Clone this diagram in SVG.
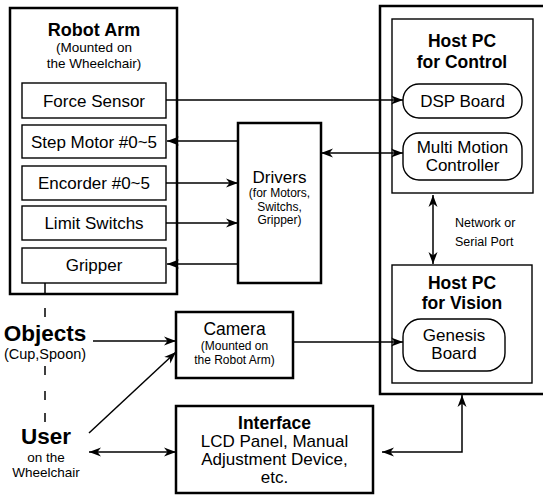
<svg xmlns="http://www.w3.org/2000/svg" width="543" height="497" viewBox="0 0 543 497">
<style>
text{font-family:"Liberation Sans",Arial,Helvetica,sans-serif;fill:#000;text-anchor:middle}
.b{font-weight:bold}
.outer{fill:none;stroke:#000;stroke-width:2.5}
.inner{fill:none;stroke:#000;stroke-width:1.4}
.c{fill:none;stroke:#000;stroke-width:1.5}
.l{font-size:17px}
.s{font-size:12px}
</style>
<defs>
<marker id="ah" markerUnits="userSpaceOnUse" markerWidth="14" markerHeight="10" refX="12" refY="5" orient="auto-start-reverse" viewBox="0 0 14 10">
<path d="M0,0.5 L12,5 L0,9.5 L3.5,5 Z" fill="#000"/>
</marker>
</defs>
<rect width="543" height="497" fill="#fff"/>

<g id="robot-arm">
<rect class="outer" x="10" y="8" width="167" height="286"/>
<text class="b" x="94" y="35.5" font-size="18">Robot Arm</text>
<text x="94" y="52" font-size="13.5">(Mounted on</text>
<text x="94" y="67.5" font-size="13.5">the Wheelchair)</text>
</g>
<g id="force-sensor"><rect class="inner" x="22" y="83" width="144" height="35"/><text class="l" x="94" y="107">Force Sensor</text></g>
<g id="step-motor"><rect class="inner" x="22" y="125" width="144" height="33"/><text class="l" x="94" y="148">Step Motor #0~5</text></g>
<g id="encorder"><rect class="inner" x="22" y="166" width="144" height="34"/><text class="l" x="94" y="189">Encorder #0~5</text></g>
<g id="limit-switchs"><rect class="inner" x="22" y="206" width="144" height="34"/><text class="l" x="94" y="229">Limit Switchs</text></g>
<g id="gripper"><rect class="inner" x="22" y="248" width="144" height="35"/><text class="l" x="94" y="271">Gripper</text></g>

<g id="drivers">
<rect class="outer" x="238" y="123" width="83" height="160"/>
<text class="l" x="279.5" y="182.5">Drivers</text>
<text class="s" x="279.5" y="197">(for Motors,</text>
<text class="s" x="279.5" y="210.5">Switchs,</text>
<text class="s" x="279.5" y="224">Gripper)</text>
</g>

<g id="host-pc">
<rect class="outer" x="380" y="6" width="175" height="388"/>
</g>
<g id="host-pc-control">
<rect class="inner" x="392" y="19" width="141" height="174"/>
<text class="b" x="462" y="47" font-size="17.5">Host PC</text>
<text class="b" x="462" y="67.5" font-size="17.5">for Control</text>
</g>
<g id="dsp-board"><rect class="inner" x="403" y="84" width="119" height="34" rx="16"/><text class="l" x="462.5" y="107">DSP Board</text></g>
<g id="multi-motion"><rect class="inner" x="403" y="133" width="119" height="47" rx="16"/><text class="l" x="462.5" y="153">Multi Motion</text><text class="l" x="462.5" y="171">Controller</text></g>

<g id="host-pc-vision">
<rect class="inner" x="392" y="265" width="140" height="118"/>
<text class="b" x="462" y="288.5" font-size="17.5">Host PC</text>
<text class="b" x="462" y="309" font-size="17.5">for Vision</text>
</g>
<g id="genesis-board"><rect class="inner" x="403" y="319" width="102" height="52" rx="18"/><text class="l" x="454" y="341">Genesis</text><text class="l" x="454" y="359">Board</text></g>

<g id="camera">
<rect class="outer" x="176" y="312" width="117" height="66"/>
<text x="234.5" y="335" font-size="17.5">Camera</text>
<text class="s" x="234.5" y="350">(Mounted on</text>
<text class="s" x="234.5" y="364">the Robot Arm)</text>
</g>

<g id="interface">
<rect class="outer" x="176" y="406" width="197" height="87"/>
<text class="b" x="274.5" y="429" font-size="17.5">Interface</text>
<text class="l" x="274.5" y="447">LCD Panel, Manual</text>
<text class="l" x="274.5" y="465">Adjustment Device,</text>
<text class="l" x="274.5" y="483">etc.</text>
</g>

<g id="objects">
<text class="b" x="45" y="341" font-size="22.5">Objects</text>
<text x="45" y="359" font-size="14.5">(Cup,Spoon)</text>
</g>
<g id="user">
<text class="b" x="46" y="444" font-size="22.5">User</text>
<text x="46" y="461.5" font-size="13.5">on the</text>
<text x="46" y="477" font-size="13.5">Wheelchair</text>
</g>

<g id="labels">
<text x="455" y="227" font-size="12.5" style="text-anchor:start">Network or</text>
<text x="455" y="246" font-size="12.5" style="text-anchor:start">Serial Port</text>
</g>

<g id="connectors">
<path class="c" d="M166,100 H403" marker-end="url(#ah)"/>
<path class="c" d="M238,141 H167" marker-end="url(#ah)"/>
<path class="c" d="M166,183 H238" marker-end="url(#ah)"/>
<path class="c" d="M166,223 H238" marker-end="url(#ah)"/>
<path class="c" d="M238,264 H167" marker-end="url(#ah)"/>
<path class="c" d="M321,153 H403" marker-start="url(#ah)" marker-end="url(#ah)"/>
<path class="c" d="M433,195 V264" stroke-width="2" marker-start="url(#ah)" marker-end="url(#ah)"/>
<path class="c" d="M293,342 H403" marker-end="url(#ah)"/>
<path class="c" d="M93,341 H176" marker-end="url(#ah)"/>
<path class="c" d="M89,433 L176,352" marker-end="url(#ah)"/>
<path class="c" d="M89,452 H176" marker-start="url(#ah)" marker-end="url(#ah)"/>
<path class="c" d="M382,452 H462 V395" marker-start="url(#ah)" marker-end="url(#ah)"/>
<path class="c" d="M45,283 V294"/>
<path class="c" d="M45,308 V317 M45,366 V375 M45,391 V400 M45,413 V422"/>
</g>
</svg>
